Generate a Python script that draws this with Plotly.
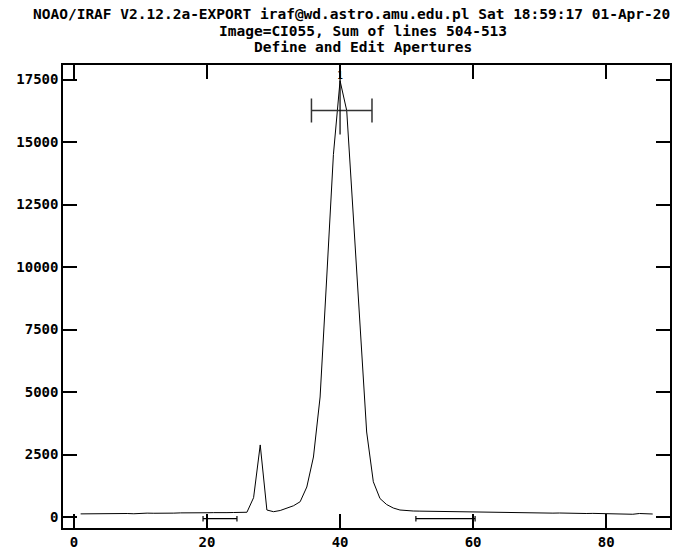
import plotly.graph_objects as go

# ---- data ----
columns = list(range(1, 88))
flux = [125, 130, 135, 130, 140, 135, 145, 140, 130, 150,
        155, 150, 145, 160, 155, 165, 160, 170, 165, 170,
        175, 165, 175, 180, 185, 190, 773, 2883, 280, 212,
        260, 340, 450, 611, 1200, 2400, 4800, 9600, 14500, 17450,
        16260, 12000, 7500, 3400, 1410, 740, 500, 360, 280, 250,
        240, 235, 230, 225, 215, 220, 210, 205, 200, 195,
        200, 190, 195, 185, 180, 175, 180, 170, 165, 170,
        160, 155, 160, 150, 145, 150, 140, 145, 140, 135,
        140, 130, 135, 110, 140, 125, 120]

aperture_center = 40.0
aperture_low = 35.7
aperture_high = 44.8
aperture_level = 16260
aperture_label = "1"

background_regions = [(19.4, 24.5), (51.4, 60.3)]
background_level = -68

x_ticks = [0, 20, 40, 60, 80]
y_ticks = [0, 2500, 5000, 7500, 10000, 12500, 15000, 17500]

title_lines = [
    "NOAO/IRAF V2.12.2a-EXPORT iraf@wd.astro.amu.edu.pl Sat 18:59:17 01-Apr-20",
    "Image=CI055, Sum of lines 504-513",
    "Define and Edit Apertures",
]

FONT = "DejaVu Sans Mono"

fig = go.Figure()

# profile
fig.add_trace(go.Scatter(x=columns, y=flux, mode="lines",
                         line=dict(color="black", width=1), hoverinfo="skip"))

# aperture marker
cap = 480
ax, ay = [], []
ax += [aperture_low, aperture_high, None]
ay += [aperture_level, aperture_level, None]
ax += [aperture_low, aperture_low, None]
ay += [aperture_level - cap, aperture_level + cap, None]
ax += [aperture_high, aperture_high, None]
ay += [aperture_level - cap, aperture_level + cap, None]
fig.add_trace(go.Scatter(x=ax, y=ay, mode="lines",
                         line=dict(color="#333333", width=1.5), hoverinfo="skip"))
fig.add_trace(go.Scatter(x=[aperture_center, aperture_center],
                         y=[aperture_level - 960, 17900], mode="lines",
                         line=dict(color="black", width=1.2), hoverinfo="skip"))

# background markers
bx, by = [], []
bcap = 110
for lo, hi in background_regions:
    bx += [lo, hi, None, lo, lo, None, hi, hi, None]
    by += [background_level, background_level, None,
           background_level - bcap, background_level + bcap, None,
           background_level - bcap, background_level + bcap, None]
fig.add_trace(go.Scatter(x=bx, y=by, mode="lines",
                         line=dict(color="black", width=1.2), hoverinfo="skip"))

annotations = [
    dict(x=aperture_center, y=17650, xref="x", yref="y", text=aperture_label,
         showarrow=False, font=dict(family=FONT, size=10, color="black"),
         xanchor="center", yanchor="middle"),
]
title_pos = [(0.4745, 1.1111), (0.494, 1.0744), (0.494, 1.0378)]
for (px, py), t in zip(title_pos, title_lines):
    annotations.append(dict(x=px, y=py, xref="paper", yref="paper", text="<b>%s</b>" % t,
                            showarrow=False, xanchor="center", yanchor="middle",
                            font=dict(family=FONT, size=14.5, color="black")))

axis_common = dict(showgrid=False, zeroline=False, showline=True, linecolor="black",
                   linewidth=1.5, mirror="ticks", ticks="inside", ticklen=14,
                   tickwidth=2, tickcolor="black",
                   tickfont=dict(family=FONT, size=14, color="black"))

fig.update_layout(
    width=675, height=554,
    margin=dict(l=63, r=3, t=64.5, b=26),
    paper_bgcolor="white", plot_bgcolor="white",
    showlegend=False,
    annotations=annotations,
    xaxis=dict(range=[-1.65, 89.6], tickvals=x_ticks,
               ticktext=["<b>%d</b>" % v for v in x_ticks], **axis_common),
    yaxis=dict(range=[-440, 18080], tickvals=y_ticks,
               ticktext=["<b>%d</b>" % v for v in y_ticks], **axis_common),
)

fig.write_html("out.html")
